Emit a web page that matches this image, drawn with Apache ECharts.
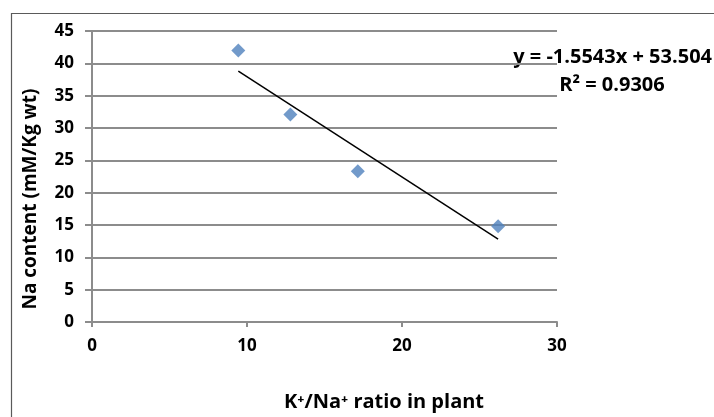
<!DOCTYPE html>
<html>
<head>
<meta charset="utf-8">
<script src="https://cdn.jsdelivr.net/npm/echarts@6/dist/echarts.min.js"></script>
<style>
  html, body { margin: 0; padding: 0; background: #fff; }
  #chart { width: 714px; height: 417px; }
</style>
</head>
<body>
<div id="chart"></div>
<script>
// 資料
const ratioValues = [9.44, 12.8, 17.15, 26.2]
const naValues = [42, 32.1, 23.3, 14.8]
const trendX = [9.44, 26.2]
const trendY = [38.8, 12.8]
const equationText = 'y = -1.5543x + 53.504'
const r2Text = 'R² = 0.9306'

const font = '"Open Sans", sans-serif'
const gridColor = '#8c8c8c'

const chart = echarts.init(document.getElementById('chart'))
chart.setOption({
    animation: false,
    grid: { left: 92, right: 157, top: 31, bottom: 95 },
    xAxis: {
        type: 'value', min: 0, max: 30, interval: 10,
        axisLine: { show: true, lineStyle: { color: gridColor, width: 2 } },
        axisTick: { show: true, length: 5, lineStyle: { color: gridColor, width: 2 } },
        axisLabel: { margin: 16, color: '#000', fontFamily: font, fontWeight: 'bold', fontSize: 17 },
        splitLine: { show: false }
    },
    yAxis: {
        type: 'value', min: 0, max: 45, interval: 5,
        axisLine: { show: true, lineStyle: { color: gridColor, width: 2 } },
        axisTick: { show: true, length: 7, lineStyle: { color: gridColor, width: 2 } },
        axisLabel: { margin: 18, color: '#000', fontFamily: font, fontWeight: 'bold', fontSize: 17 },
        splitLine: { show: true, lineStyle: { color: gridColor, width: 2 } }
    },
    graphic: [
        { type: 'rect', silent: true, shape: { x: 11.5, y: 13.5, width: 800, height: 800 },
          style: { fill: 'none', stroke: '#5a5a5a', lineWidth: 1.2 } },
        { type: 'text', x: 31, y: 199, rotation: Math.PI / 2,
          style: { text: 'Na content (mM/Kg wt)', font: 'bold 19px ' + font, fill: '#000',
                   textAlign: 'center', textVerticalAlign: 'middle' } },
        { type: 'text', x: 384, y: 402,
          style: { text: 'K⁺/Na⁺ ratio in plant', font: 'bold 20px ' + font, fill: '#000',
                   textAlign: 'center', textVerticalAlign: 'middle' } },
        { type: 'text', x: 712, y: 57,
          style: { text: equationText, font: 'bold 20px ' + font, fill: '#000',
                   textAlign: 'right', textVerticalAlign: 'middle' } },
        { type: 'text', x: 612, y: 85,
          style: { text: r2Text, font: 'bold 20px ' + font, fill: '#000',
                   textAlign: 'center', textVerticalAlign: 'middle' } }
    ],
    series: [
        {
            type: 'scatter',
            symbol: 'diamond',
            symbolSize: 14,
            itemStyle: { color: '#4f81bd' },
            data: ratioValues.map((x, i) => [x, naValues[i]]),
            z: 3
        },
        {
            type: 'line',
            showSymbol: false,
            symbol: 'none',
            lineStyle: { color: '#000', width: 1.5 },
            data: trendX.map((x, i) => [x, trendY[i]]),
            z: 2
        }
    ]
})
</script>
</body>
</html>
